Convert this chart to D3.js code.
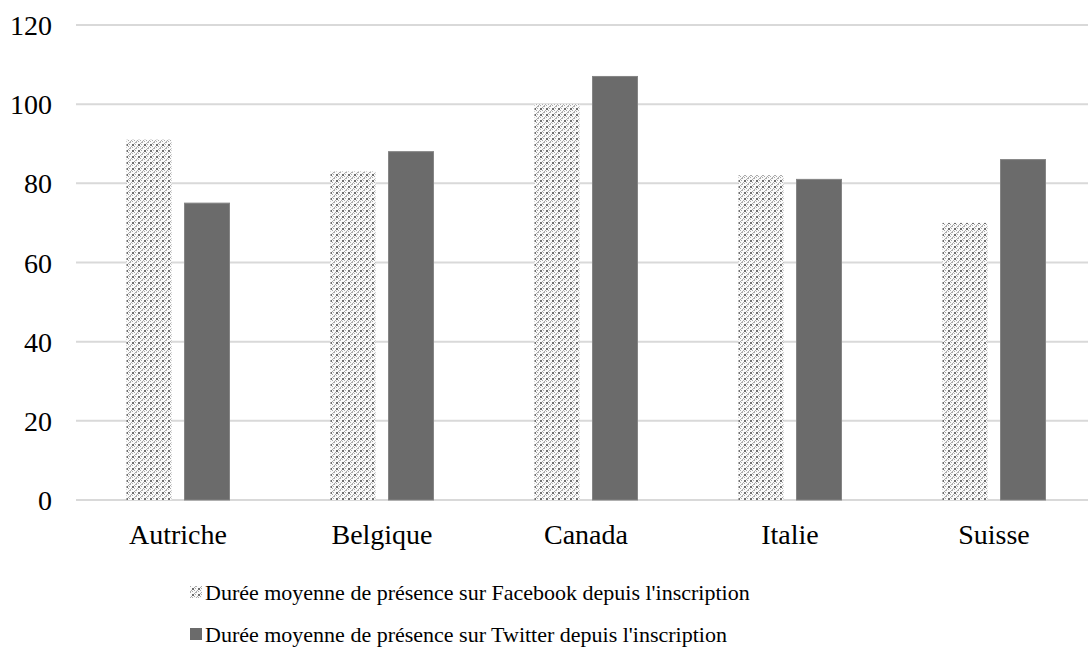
<!DOCTYPE html>
<html>
<head>
<meta charset="utf-8">
<script src="https://cdn.jsdelivr.net/npm/d3@7"></script>
<style>
  body { margin: 0; background: #fff; }
  svg { display: block; }
  text { font-family: "Liberation Serif", Tinos, serif; }
</style>
</head>
<body>
<svg id="chart" width="1088" height="653"></svg>
<script>
const countries = ["Autriche", "Belgique", "Canada", "Italie", "Suisse"];
const facebookValues = [91, 83, 100, 82, 70];
const twitterValues = [75, 88, 107, 81, 86];
const seriesNames = [
  "Durée moyenne de présence sur Facebook depuis l'inscription",
  "Durée moyenne de présence sur Twitter depuis l'inscription"
];
const yTicks = [0, 20, 40, 60, 80, 100, 120];

const width = 1088, height = 653;
const plotLeft = 76, plotRight = 1096, plotTop = 25, plotBottom = 500;

const svg = d3.select("#chart");

// dotted pattern for the facebook bars
const defs = svg.append("defs");
const pat = defs.append("pattern")
  .attr("id", "dots")
  .attr("patternUnits", "userSpaceOnUse")
  .attr("width", 6).attr("height", 6);
pat.append("rect").attr("width", 6).attr("height", 6).attr("fill", "#fafafa");
const darkPx = [[0,0],[1,0],[0,1],[1,1]];
const greyPx = [[3,0],[0,3],[2,2],[4,4],[3,4],[4,3],[2,5],[5,2]];
darkPx.forEach(([px, py]) => pat.append("rect").attr("x", px).attr("y", py)
  .attr("width", 1).attr("height", 1).attr("fill", "#6e6e6e"));
greyPx.forEach(([px, py]) => pat.append("rect").attr("x", px).attr("y", py)
  .attr("width", 1).attr("height", 1).attr("fill", "#ababab"));

const x = d3.scaleBand().domain(countries).range([plotLeft, plotRight]);
const y = d3.scaleLinear().domain([0, 120]).range([plotBottom, plotTop]);

// gridlines
svg.append("g")
  .selectAll("line")
  .data(yTicks)
  .join("line")
    .attr("x1", plotLeft).attr("x2", width)
    .attr("y1", d => y(d)).attr("y2", d => y(d))
    .attr("stroke", "#d9d9d9").attr("stroke-width", 2);

// y labels
svg.append("g")
  .selectAll("text")
  .data(yTicks)
  .join("text")
    .attr("x", 52).attr("y", d => y(d) + 10)
    .attr("text-anchor", "end")
    .style("font-family", "Liberation Serif")
    .style("font-size", "28px")
    .attr("fill", "#000")
    .text(d => d);

const barW = 45, gap = 13;
const groups = svg.append("g");

groups.selectAll(".fb")
  .data(countries)
  .join("rect")
    .attr("class", "fb")
    .attr("x", d => x(d) + x.bandwidth() / 2 - gap / 2 - barW)
    .attr("y", (d, i) => y(facebookValues[i]))
    .attr("width", barW)
    .attr("height", (d, i) => y(0) - y(facebookValues[i]))
    .attr("fill", "url(#dots)");

groups.selectAll(".tw")
  .data(countries)
  .join("rect")
    .attr("class", "tw")
    .attr("x", d => x(d) + x.bandwidth() / 2 + gap / 2)
    .attr("y", (d, i) => y(twitterValues[i]))
    .attr("width", barW)
    .attr("height", (d, i) => y(0) - y(twitterValues[i]))
    .attr("fill", "#6b6b6b")
    .attr("stroke", "#858585")
    .attr("stroke-width", 1);

// category labels
svg.append("g")
  .selectAll("text")
  .data(countries)
  .join("text")
    .attr("x", d => x(d) + x.bandwidth() / 2)
    .attr("y", 544)
    .attr("text-anchor", "middle")
    .style("font-family", "Liberation Serif")
    .style("font-size", "28px")
    .text(d => d);

// legend
const legend = svg.append("g");
seriesNames.forEach((name, i) => {
  const base = 600 + i * 42;
  legend.append("rect")
    .attr("x", 190).attr("y", base - 14)
    .attr("width", 12).attr("height", 12)
    .attr("fill", i === 0 ? "url(#dots)" : "#6b6b6b");
  legend.append("text")
    .attr("x", 205).attr("y", base)
    .style("font-family", "Liberation Serif")
    .style("font-size", "22px")
    .text(name);
});
</script>
</body>
</html>
